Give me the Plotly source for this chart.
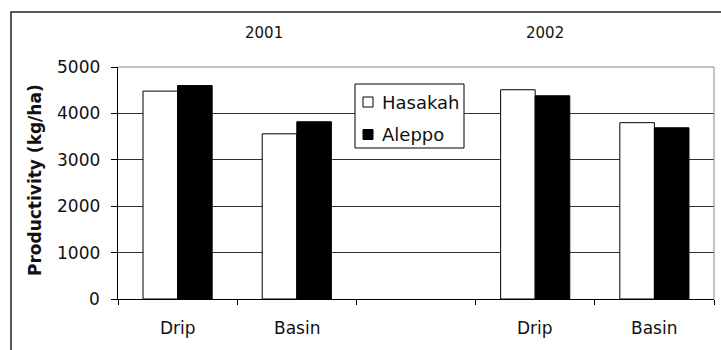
import plotly.graph_objects as go

# Irrigation method per season; the blank entry separates the two years
categories = ["Drip 2001", "Basin 2001", "gap", "Drip 2002", "Basin 2002"]
tick_labels = {"Drip 2001": "Drip", "Basin 2001": "Basin", "gap": "",
               "Drip 2002": "Drip", "Basin 2002": "Basin"}
years = ["2001", "2002"]
y_title = "Productivity (kg/ha)"

series_names = ["Hasakah", "Aleppo"]
hasakah = [4480, 3560, None, 4510, 3800]
aleppo = [4600, 3820, None, 4380, 3690]

# plot-area geometry in pixels (used for layout annotations/shapes)
W, H = 721, 350
L, R, T, B = 118, 7, 67, 51
PW, PH = W - L - R, H - T - B


def px(x):
    return (x - L) / PW


def py(y):
    return (H - B - y) / PH


FONT = "DejaVu Sans"
Y_MAX, Y_STEP = 5000, 1000
n = len(categories)

fig = go.Figure()
fig.add_trace(go.Bar(x=categories, y=hasakah, name=series_names[0],
                     marker=dict(color="white", line=dict(color="black", width=1))))
fig.add_trace(go.Bar(x=categories, y=aleppo, name=series_names[1],
                     marker=dict(color="black", line=dict(color="black", width=1))))

fig.update_layout(
    width=W, height=H,
    margin=dict(l=L, r=R, t=T, b=B, pad=0),
    paper_bgcolor="white", plot_bgcolor="white",
    barmode="group", bargap=0.42, bargroupgap=0,
    showlegend=False,
    font=dict(family=FONT, color="#111", size=17),
)

# native axes draw the line and tick marks; labels are placed as annotations
fig.update_layout(
    xaxis=dict(
        type="category", categoryorder="array", categoryarray=categories,
        range=[-0.5, n - 0.5],
        tickson="boundaries", ticks="outside", ticklen=5, tickwidth=1,
        tickcolor="black", showticklabels=False,
        showgrid=False, showline=True, linecolor="black", linewidth=1,
        fixedrange=True,
    ),
    yaxis=dict(
        range=[0, Y_MAX], dtick=Y_STEP, tick0=0,
        ticks="outside", ticklen=6, tickwidth=1, tickcolor="black",
        showticklabels=False,
        showgrid=True, gridcolor="#303030", gridwidth=1,
        zeroline=False, showline=True, linecolor="black", linewidth=1,
        fixedrange=True,
    ),
)

shapes = [
    # outer chart frame
    dict(type="rect", xref="paper", yref="paper",
         x0=px(11), x1=px(760), y0=py(400), y1=py(12),
         line=dict(color="#222", width=1.5), fillcolor="rgba(0,0,0,0)", layer="above"),
    # top and right edges of the plot area
    dict(type="line", xref="paper", yref="paper", x0=0, x1=1, y0=1, y1=1,
         line=dict(color="#8a8a8a", width=1), layer="above"),
    dict(type="line", xref="paper", yref="paper", x0=1, x1=1, y0=0, y1=1,
         line=dict(color="#8a8a8a", width=1), layer="above"),
    # legend box
    dict(type="rect", xref="paper", yref="paper",
         x0=px(355), x1=px(464), y0=py(148), y1=py(84),
         line=dict(color="black", width=1), fillcolor="white", layer="above"),
]

annotations = []

# category labels under the x axis
for cat in categories:
    annotations.append(dict(text=tick_labels[cat], xref="x", yref="paper",
                            x=cat, y=py(328), xanchor="center", yanchor="middle",
                            showarrow=False, font=dict(family=FONT, size=17, color="#111")))

# value labels left of the y axis
for v in range(0, Y_MAX + 1, Y_STEP):
    annotations.append(dict(text=str(v), xref="paper", yref="y",
                            x=px(102), y=v, xanchor="right", yanchor="middle",
                            showarrow=False, font=dict(family=FONT, size=17, color="#111")))

# y-axis title
annotations.append(dict(text=f"<b>{y_title}</b>", xref="paper", yref="paper",
                        x=px(35), y=py(180), xanchor="center", yanchor="middle",
                        textangle=-90, showarrow=False,
                        font=dict(family=FONT, size=17, color="#111")))

# legend entries
legend_rows = [(102, "white"), (134.5, "black")]
for (cy, fill), name in zip(legend_rows, series_names):
    shapes.append(dict(type="rect", xref="paper", yref="paper",
                       x0=px(363), x1=px(373), y0=py(cy + 5), y1=py(cy - 5),
                       line=dict(color="black", width=1), fillcolor=fill, layer="above"))
    annotations.append(dict(text=name, xref="paper", yref="paper",
                            x=px(380), y=py(cy), xanchor="left", yanchor="middle",
                            showarrow=False, font=dict(family=FONT, size=18, color="#111")))

# year headings
for year, cx in zip(years, [264, 545]):
    annotations.append(dict(text=year, xref="paper", yref="paper",
                            x=px(cx), y=py(33), xanchor="center", yanchor="middle",
                            showarrow=False, font=dict(family=FONT, size=15, color="#111")))

fig.update_layout(shapes=shapes, annotations=annotations)

fig.write_html("out.html")
